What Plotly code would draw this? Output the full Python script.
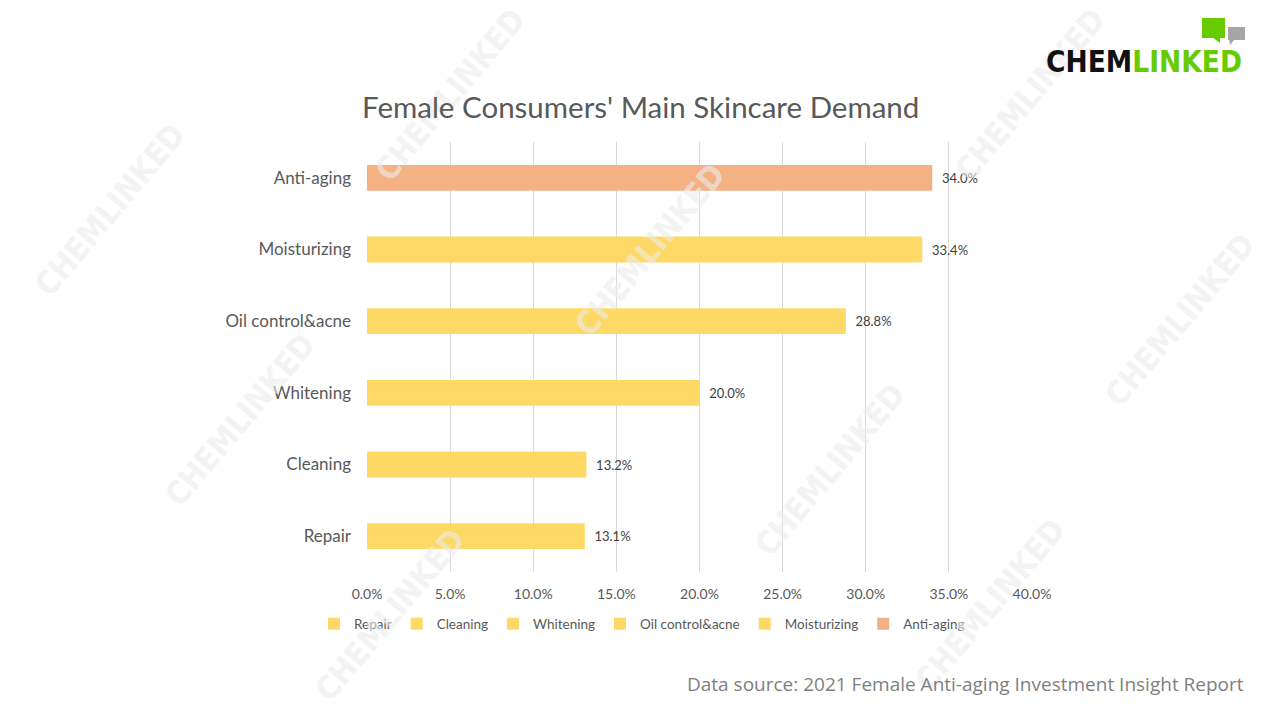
import plotly.graph_objects as go

categories = ["Repair", "Cleaning", "Whitening", "Oil control&acne", "Moisturizing", "Anti-aging"]
values = [0.131, 0.132, 0.200, 0.288, 0.334, 0.340]
colors = ["#FFD966", "#FFD966", "#FFD966", "#FFD966", "#FFD966", "#F4B183"]
x_ticks = [0.0, 0.05, 0.10, 0.15, 0.20, 0.25, 0.30, 0.35, 0.40]

W, H = 1280, 720
L, R, T, B = 367, 1032, 142, 572

def px(x):
    return (x - L) / (R - L)

def py(y):
    return (B - y) / (B - T)

fig = go.Figure()
for cat, val, col in zip(categories, values, colors):
    fig.add_trace(go.Bar(
        y=[cat], x=[val], name=cat, orientation="h",
        marker=dict(color=col, line=dict(width=0)),
        width=0.36,
        text=[val], texttemplate="\u00a0\u00a0%{x:.1%}", textposition="outside",
        textfont=dict(size=13, color="#404040", family="Lato"),
        cliponaxis=False,
    ))

annotations = []

# faint watermarks (behind the other texts)
wm_centers = [(110, 210), (450, 95), (650, 250), (1030, 95), (1180, 320),
              (240, 420), (830, 470), (390, 615), (990, 605)]
for cx, cy in wm_centers:
    annotations.append(dict(text="<b>CHEMLINKED</b>", x=px(cx), y=py(cy), xref="paper", yref="paper",
                            xanchor="center", yanchor="middle",
                            showarrow=False, textangle=-50, opacity=0.6,
                            font=dict(size=32, color="#ECECEC", family="DejaVu Sans Condensed")))

annotations += [
    dict(text="Female Consumers' Main Skincare Demand", x=px(640), y=py(106),
         xref="paper", yref="paper", showarrow=False, xanchor="center", yanchor="middle",
         font=dict(size=29.5, color="#595959", family="Lato")),
    dict(text="Data source: 2021 Female Anti-aging Investment Insight Report", x=px(1246), y=py(684),
         xref="paper", yref="paper", showarrow=False, xanchor="right", yanchor="middle",
         font=dict(size=19, color="#7f7f7f", family="Open Sans")),
    dict(text="<b>CHEM</b><span style='color:#66CC00'><b>LINKED</b></span>", x=px(1244), y=py(62),
         xref="paper", yref="paper", showarrow=False, xanchor="right", yanchor="middle",
         font=dict(size=29.5, color="#111111", family="DejaVu Sans Condensed")),
]

shapes = [
    dict(type="rect", xref="paper", yref="paper", x0=px(1202), x1=px(1225), y0=py(38), y1=py(18),
         fillcolor="#66CC00", line=dict(width=0)),
    dict(type="path", xref="paper", yref="paper",
         path=f"M {px(1212)},{py(37)} L {px(1220)},{py(37)} L {px(1220)},{py(43)} Z",
         fillcolor="#66CC00", line=dict(width=0)),
    dict(type="rect", xref="paper", yref="paper", x0=px(1228), x1=px(1245), y0=py(40), y1=py(27),
         fillcolor="#A6A6A6", line=dict(width=0)),
    dict(type="path", xref="paper", yref="paper",
         path=f"M {px(1229)},{py(39)} L {px(1235)},{py(39)} L {px(1230)},{py(45)} Z",
         fillcolor="#A6A6A6", line=dict(width=0)),
]

fig.update_layout(
    width=W, height=H,
    margin=dict(l=L, r=W - R, t=T, b=H - B, pad=0),
    paper_bgcolor="white", plot_bgcolor="white",
    barmode="relative",
    showlegend=True,
    legend=dict(orientation="h", x=px(642), y=py(624), xanchor="center", yanchor="middle",
                font=dict(size=13.5, color="#595959", family="Lato"), traceorder="normal",
                itemwidth=30),
    xaxis=dict(range=[0, 0.4], tickvals=x_ticks, tickformat=".1%", showgrid=True,
               gridcolor="#D9D9D9", gridwidth=1, zeroline=False, showline=False,
               tickfont=dict(size=14, color="#595959", family="Lato"), ticks="",
               ticklabelstandoff=12),
    yaxis=dict(categoryorder="array", categoryarray=categories, showgrid=False,
               zeroline=False, showline=False, ticks="",
               tickfont=dict(size=17, color="#595959", family="Lato"),
               ticklabelstandoff=15),
    annotations=annotations,
    shapes=shapes,
    font=dict(family="Lato"),
)

fig.write_html("out.html")
